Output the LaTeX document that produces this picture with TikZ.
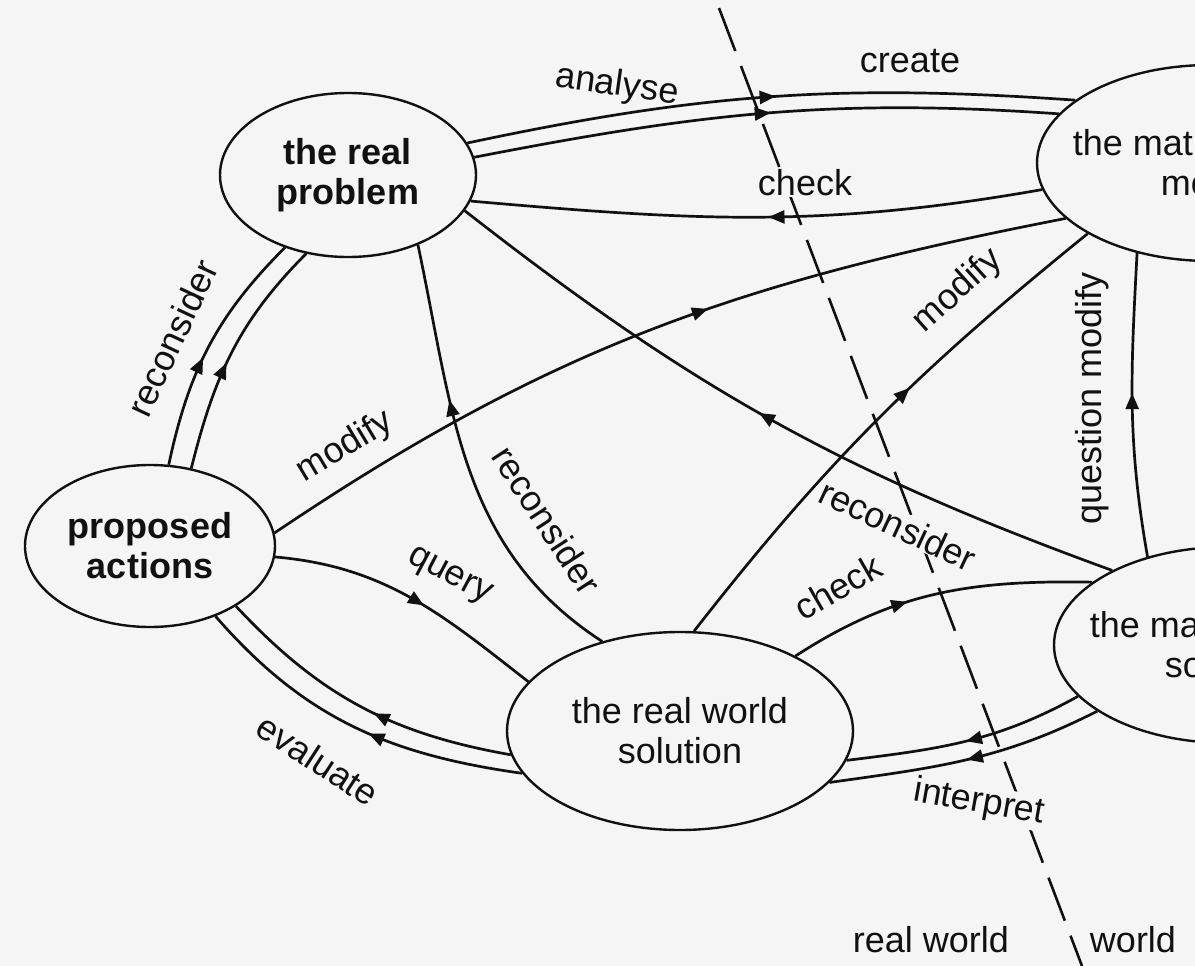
\documentclass[tikz,border=0pt]{standalone}
\usepackage{fontspec}
\setmainfont{Liberation Sans}
\usetikzlibrary{shapes.geometric,arrows.meta,decorations.markings}
\definecolor{paper}{HTML}{F5F5F5}
\definecolor{ink}{HTML}{111111}
\tikzset{
  txt/.style={font=\fontsize{36}{40}\selectfont, text=ink, inner sep=1pt},
  lbl/.style={txt, fill=paper},
  blob/.style={ellipse, draw=ink, line width=2.4pt, inner sep=0pt, align=center,
    font=\fontsize{36}{40}\selectfont, text=ink},
  conn/.style={draw=ink, color=ink, line width=2.7pt},
  ar/.style={postaction={decorate,decoration={markings,
    mark=at position #1 with {\arrow{Triangle[length=16pt,width=13pt]}}}}},
  divide/.style={draw=ink, line width=2.6pt, dash pattern=on 46pt off 16pt},
}
\begin{document}
\begin{tikzpicture}[x=1pt,y=-1pt]
\fill[paper] (0,0) rectangle (1195,966);
\clip (0,0) rectangle (1195,966);

% dividing line
\coordinate (dtop) at (719,8);
\coordinate (dbot) at (1082,966);
\draw[divide] (dtop) -- (dbot);

% nodes
\node[blob, minimum width=256pt, minimum height=164pt,
      font=\fontsize{36}{40}\selectfont\bfseries] (rp) at (348,175) {the real\\problem};
\node[blob, minimum width=250pt, minimum height=162pt,
      font=\fontsize{36}{40}\selectfont\bfseries] (pa) at (150,546) {proposed\\actions};
\node[blob, minimum width=346pt, minimum height=198pt] (rw) at (680,731) {the real world\\solution};
\node[blob, minimum width=346pt, minimum height=196pt, inner xsep=-50pt] (mm) at (1210,163) {the mathematical\\model};
\node[blob, minimum width=346pt, minimum height=196pt, inner xsep=-50pt] (ms) at (1227,645) {the mathematical\\solution};

% labels
\node[txt, rotate=65] (l1) at (172,338) {reconsider};
\node[txt, rotate=-8] (l2) at (617,86) {analyse};
\node[txt] (l3) at (910,61) {create};
\node[lbl] (l4) at (805,183) {check};
\node[txt, rotate=31] (l5) at (345,447) {modify};
\node[txt, rotate=-57] (l6) at (547,520) {reconsider};
\node[txt, rotate=42] (l7) at (958,291) {modify};
\node[txt, rotate=90] (l8) at (1092,398) {question modify};
\node[lbl, rotate=-25] (l9) at (898,525) {reconsider};
\node[txt, rotate=-28] (l10) at (449,577) {query};
\node[txt, rotate=30] (l11) at (838,587) {check};
\node[txt, rotate=-33] (l12) at (318,760) {evaluate};
\node[lbl, rotate=-10] (l13) at (979,803) {interpret};
\node[txt] (l14) at (931,940) {real world};
\node[txt] (l15) at (1133,940) {world};

% connectors
\draw[conn, ar=0.51] (rp.15) to[out=12,in=176] (mm.155);
\draw[conn, ar=0.51] (rp.8) to[out=11,in=176] (mm.162.5);
\draw[conn, ar=0.48] (mm.189) to[out=190,in=-5] (rp.-12);
\draw[conn, ar=0.57] (pa.6) to[out=34,in=191] (mm.201);
\draw[conn, ar=0.45] (pa.77) to[out=78,in=225] (rp.-131);
\draw[conn, ar=0.45] (pa.62) to[out=76,in=225] (rp.-118);
\draw[conn, ar=0.65] (rw.131) to[out=147,in=-78] (rp.-45);
\draw[conn, ar=0.55] (pa.-5) to[out=-5,in=142] (rw.162);
\draw[conn, ar=0.45] (rw.188) to[out=170,in=-47] (pa.-35);
\draw[conn, ar=0.45] (rw.195) to[out=172,in=-49] (pa.-47);
\draw[conn, ar=0.4] (rw.33.5) to[out=33,in=179] (ms.155);
\draw[conn, ar=0.5] (ms.199) to[out=209,in=7] (rw.-10);
\draw[conn, ar=0.5] (ms.207) to[out=207,in=8] (rw.-19);
\draw[conn, ar=0.52] (ms.147) to[out=160,in=-38] (rp.-17);
\draw[conn, ar=0.58] (rw.82) to[out=52,in=219] (mm.210);
\draw[conn, ar=0.54] (ms.132) to[out=100,in=267] (mm.231);
\end{tikzpicture}
\end{document}
